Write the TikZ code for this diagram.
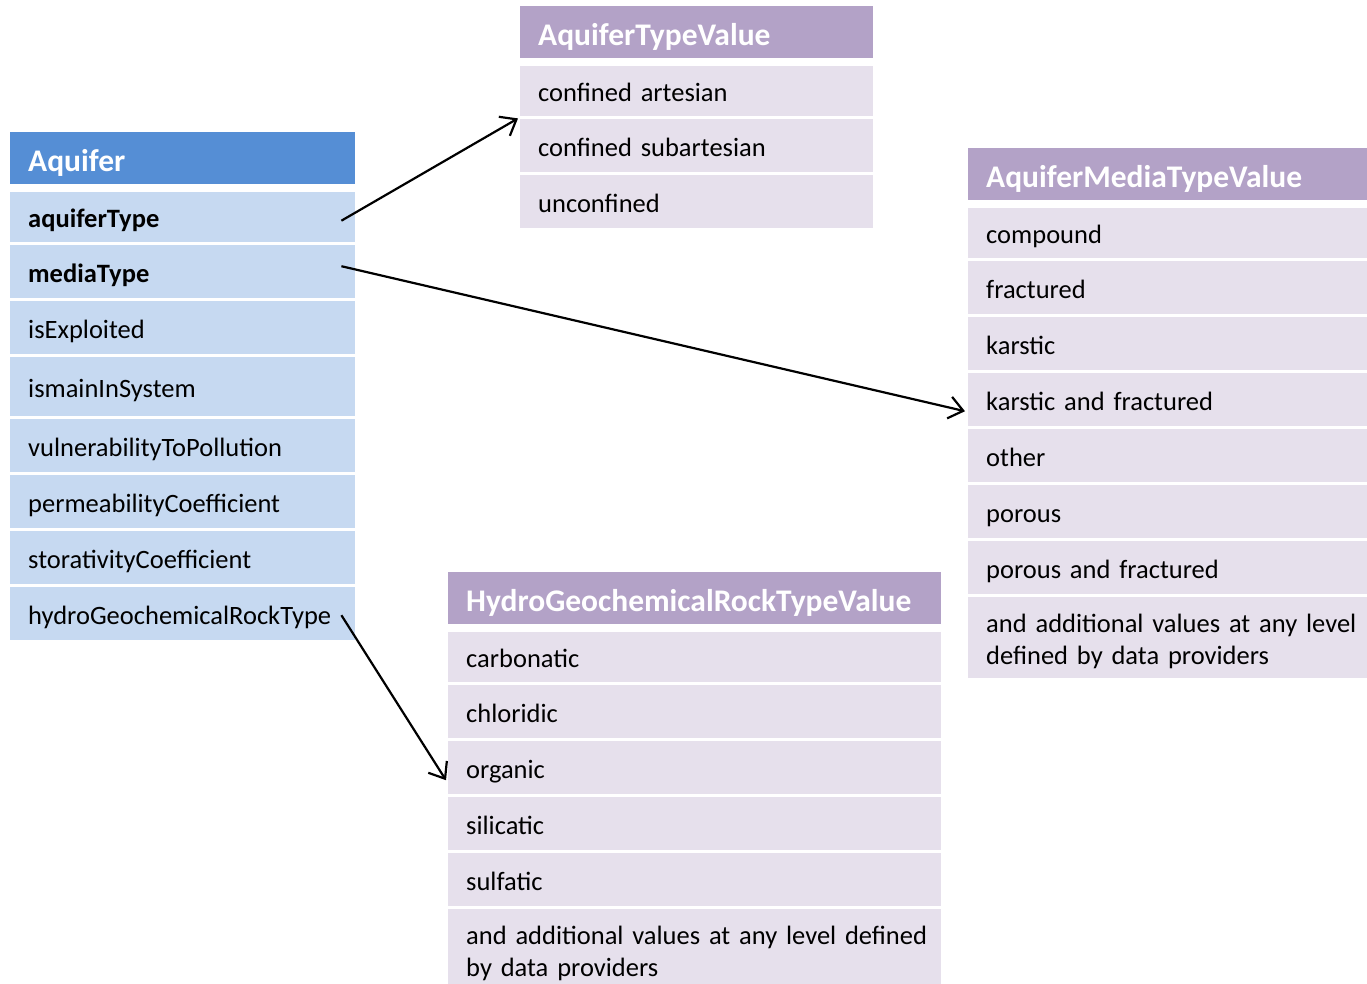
\documentclass[tikz,border=0pt]{standalone}
\usepackage{fontspec}
\setmainfont{Carlito}[WordSpace=0.75]
\usetikzlibrary{arrows.meta,calc}

\definecolor{aqblue}{RGB}{85,142,213}
\definecolor{aqlight}{RGB}{198,217,241}
\definecolor{vlhead}{RGB}{179,162,199}
\definecolor{vlrow}{RGB}{230,224,236}

\newcommand\cellfont{\fontsize{26.5}{32}\selectfont}
\newcommand\headfont{\fontsize{31.5}{38}\selectfont\bfseries}
\newcommand\cellstrut{\rule[-0.32em]{0pt}{1.433em}}
\newcommand\cellend{\rule[-0.32em]{0pt}{0.32em}}
\newcommand\headstrut{\rule[-0.25em]{0pt}{1.39em}}

\tikzset{
    cell/.style={anchor=north west, inner xsep=18pt, inner ysep=0pt, align=left,
        font=\cellfont, execute at begin node=\cellstrut, execute at end node=\cellend},
    headcell/.style={cell, font=\headfont, text=white,
        execute at begin node=\headstrut, execute at end node=\headstrut},
    link/.style={-{Straight Barb[length=14pt,width=22pt]}, line width=2.2pt},
}

\begin{document}
\begin{tikzpicture}[x=1pt,y=-1pt]
    \useasboundingbox (0,0) rectangle (1367,983);
    %draw Aquifer class
    \node[headcell, fill=aqblue, text width=309pt, minimum height=52pt] (aquifer) at (10,132) {Aquifer};
    \foreach \ry/\rh/\rn/\rt in {192/50/aquiferType/\textbf{aquiferType}, 245/53/mediaType/\textbf{mediaType},
        301/53/isExploited/isExploited, 357/59/ismainInSystem/ismainInSystem,
        419/53/vulnerability/vulnerabilityToPollution, 475/53/permeability/permeabilityCoefficient,
        531/53/storativity/storativityCoefficient, 587/53/hydroType/hydroGeochemicalRockType}
        {%
            \node[cell, fill=aqlight, text width=309pt, minimum height=\rh pt] (\rn) at (10,\ry) {\rt};
        }
    %draw AquiferTypeValue
    \node[headcell, fill=vlhead, text width=317pt, minimum height=52pt] (aquiferTypeValue) at (520,6) {AquiferTypeValue};
    \foreach \ry/\rh/\rn/\rt in {66/50/confinedArtesian/confined artesian,
        119/53/confinedSubartesian/confined subartesian, 175/53/unconfined/unconfined}
        {%
            \node[cell, fill=vlrow, text width=317pt, minimum height=\rh pt] (\rn) at (520,\ry) {\rt};
        }
    %draw AquiferMediaTypeValue
    \node[headcell, fill=vlhead, text width=363pt, minimum height=52pt] (mediaTypeValue) at (968,148) {AquiferMediaTypeValue};
    \foreach \ry/\rh/\rn/\rt in {208/50/compound/compound, 261/53/fractured/fractured,
        317/53/karstic/karstic, 373/53/karsticFractured/karstic and fractured,
        429/53/other/other, 485/53/porous/porous, 541/53/porousFractured/porous and fractured,
        597/81/mediaMore/{\mbox{and additional values at any level}\\\mbox{defined by data providers}}}
        {%
            \node[cell, fill=vlrow, text width=363pt, minimum height=\rh pt] (\rn) at (968,\ry) {\rt};
        }
    %draw HydroGeochemicalRockTypeValue
    \node[headcell, fill=vlhead, text width=457pt, minimum height=52pt] (rockTypeValue) at (448,572) {HydroGeochemicalRockTypeValue};
    \foreach \ry/\rh/\rn/\rt in {632/50/carbonatic/carbonatic, 685/53/chloridic/chloridic,
        741/53/organic/organic, 797/53/silicatic/silicatic, 853/53/sulfatic/sulfatic,
        909/81/rockMore/{\mbox{and additional values at any level defined}\\\mbox{by data providers}}}
        {%
            \node[cell, fill=vlrow, text width=457pt, minimum height=\rh pt] (\rn) at (448,\ry) {\rt};
        }
    %draw links
    \draw[link] ($(aquiferType.east)+(-14,3.5)$) -- ($(confinedArtesian.south west)+(-2,2)$);
    \draw[link] ($(mediaType.east)+(-14,-5.5)$) -- ($(karsticFractured.west)+(-3,11.5)$);
    \draw[link] ($(hydroType.east)+(-14,1.5)$) -- ($(organic.west)+(-2,12.5)$);
\end{tikzpicture}
\end{document}
